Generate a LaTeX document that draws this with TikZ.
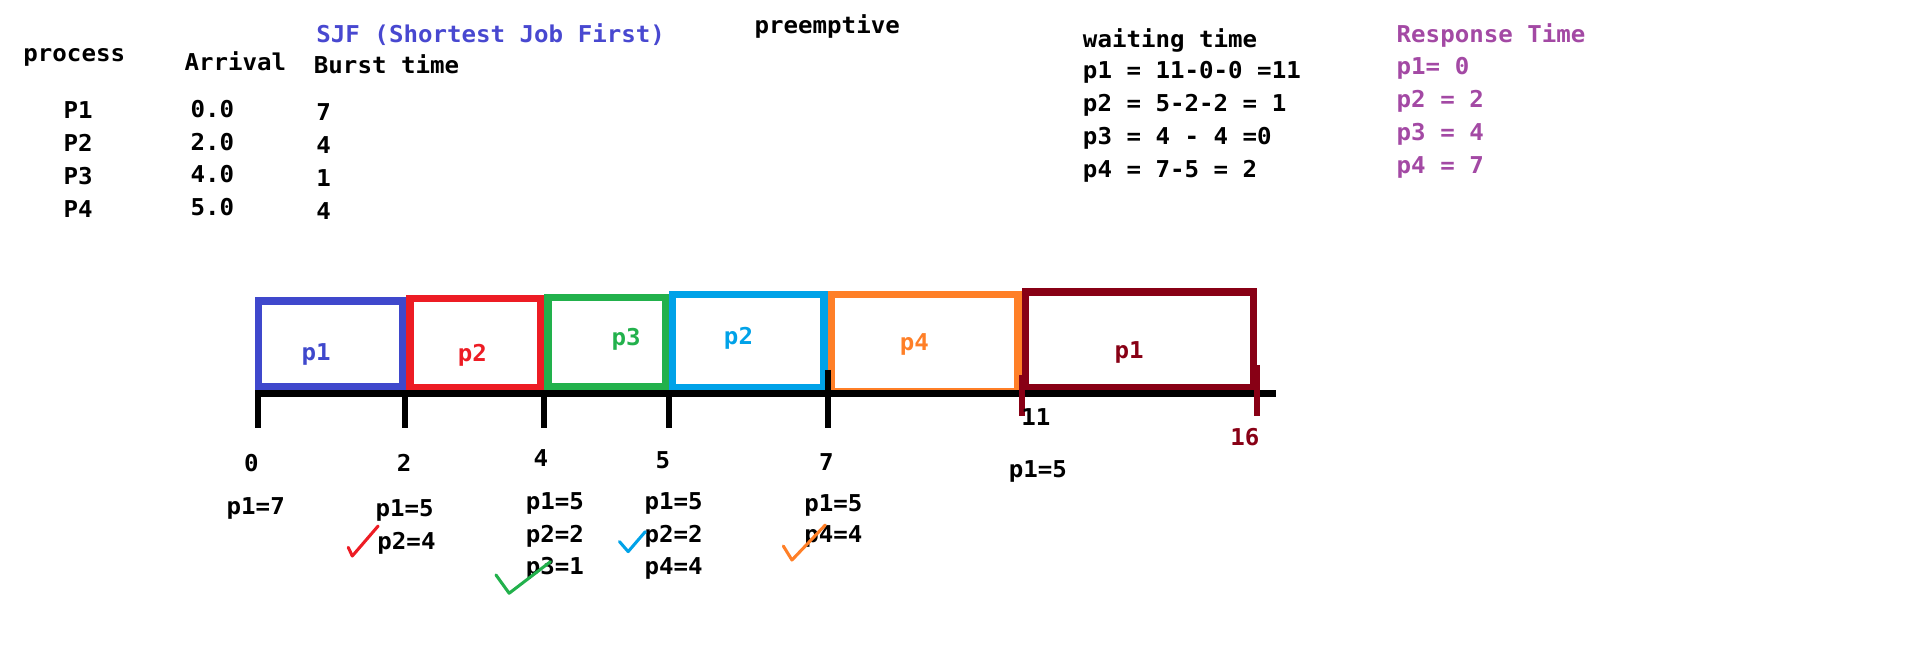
\documentclass[tikz,border=0pt]{standalone}
\usepackage{fontspec}
\setmonofont[FakeStretch=1.04]{DejaVu Sans Mono}
\usetikzlibrary{calc,positioning}
\definecolor{pblue}{RGB}{63,72,204}
\definecolor{pred}{RGB}{237,28,36}
\definecolor{pgreen}{RGB}{34,177,76}
\definecolor{pcyan}{RGB}{0,162,232}
\definecolor{porange}{RGB}{255,127,39}
\definecolor{pmaroon}{RGB}{136,0,21}
\definecolor{ptitle}{RGB}{72,72,208}
\definecolor{ppurple}{RGB}{163,73,164}
\begin{document}
\begin{tikzpicture}[x=1pt,y=-1pt,
    txt/.style={font=\ttfamily\bfseries\fontsize{19}{22}\selectfont, inner sep=0pt},
    slot/.style={draw=#1, line width=6pt, inner sep=0pt},
    tk/.style={line width=5pt},
    chk/.style={line width=2.5pt, line cap=round, line join=round}]

  \useasboundingbox (0,0) rectangle (1568,540);

  \node[txt,anchor=west] (proc) at (19,47) {process};
  \node[txt,anchor=west] (arr) at (151,50.5) {Arrival};
  \node[txt,anchor=west,ptitle] (sjf) at (259,28.7) {SJF (Shortest Job First)};
  \node[txt,anchor=west] (burst) at (257,53) {Burst time};
  \node[txt,anchor=west] (pre) at (618,21.8) {preemptive};
  \foreach \nm/\av/\bv [count=\i] in {P1/0.0/7,P2/2.0/4,P3/4.0/1,P4/5.0/4}{
    \node[txt,anchor=west] (pn\i) at (52,63+27*\i) {\nm};
    \node[txt,anchor=west] (ar\i) at (156,62+27*\i) {\av};
    \node[txt,anchor=west] (bu\i) at (259,64.5+27*\i) {\bv};
  }

  \node[txt,anchor=west] (wt) at (887,32.8) {waiting time};
  \foreach \w [count=\i] in {p1 = 11-0-0 =11, p2 = 5-2-2 = 1, p3 = 4 - 4 =0, p4 = 7-5 = 2}
    \node[txt,anchor=west] (wt\i) at (887,32.5+27*\i) {\w};
  \node[txt,anchor=west,ppurple] (rt) at (1144,28.7) {Response Time};
  \foreach \r [count=\i] in {p1= 0, p2 = 2, p3 = 4, p4 = 7}
    \node[txt,anchor=west,ppurple] (rt\i) at (1144,29+27*\i) {\r};

  \node[slot=pblue, minimum width=118, minimum height=70] (b1) at (271,281.5) {};
  \node[slot=pred, minimum width=107, minimum height=73] (b2) at (389.5,281.3) {};
  \node[slot=pgreen, minimum width=96, minimum height=73] (b3) at (497,280.4) {};
  \node[slot=pcyan, minimum width=124, minimum height=76.5] (b4) at (613,279.6) {};
  \node[slot=porange, minimum width=153, minimum height=79] (b5) at (757.5,281) {};
  \node[slot=pmaroon, minimum width=187, minimum height=78.7] (b6) at (933.5,278.5) {};
  \foreach \cl/\tx/\x/\y [count=\i] in {pblue/p1/259/290,pred/p2/387/291,pgreen/p3/513/278,
      pcyan/p2/605/277,porange/p4/749/282,pmaroon/p1/925/289}
    \node[txt,text=\cl] (l\i) at (\x,\y) {\tx};

  \coordinate (ax0) at (209,322.5);
  \coordinate (ax1) at (1045,322.5);
  \draw[line width=6pt] (ax0) -- (ax1);
  \foreach \x/\t in {211/321,332/324,446/323,548/323,678/303}
    \draw[tk] (\x,\t) -- (\x,351);
  \draw[tk,pmaroon] (837,307) -- (837,341);
  \draw[tk,pmaroon] (1030,299) -- (1030,341);

  \foreach \v/\x/\y in {0/206/379.6,2/331/379.6,4/443/375.5,5/543/377.4,7/677/378.2,11/848.7/341.4}
    \node[txt] (n\v) at (\x,\y) {\v};
  \node[txt,pmaroon] (n16) at (1019.8,357.7) {16};

  \node[txt] (c0) at (209.5,416.4) {p1=7};
  \node[txt] (c2a) at (331.5,417.8) {p1=5};
  \node[txt] (c2b) at (333,445) {p2=4};
  \node[txt] (c4a) at (454.5,412.3) {p1=5};
  \node[txt] (c4b) at (454.5,439) {p2=2};
  \node[txt] (c4c) at (454.5,465.6) {p3=1};
  \node[txt] (c5a) at (551.8,412.3) {p1=5};
  \node[txt] (c5b) at (551.8,439) {p2=2};
  \node[txt] (c5c) at (551.8,465.6) {p4=4};
  \node[txt] (c7a) at (682.8,413.7) {p1=5};
  \node[txt] (c7b) at (682.8,439.6) {p4=4};
  \node[txt] (c11) at (850.3,386.4) {p1=5};

  \draw[chk,pred] (285.3,448.4) -- (288.6,455.5) -- (309.8,430.9);
  \draw[chk,pgreen] (406.3,471) -- (417.1,486) -- (451,460.1);
  \draw[chk,pcyan] (507.5,443.7) -- (514.6,451.9) -- (528.7,435.5);
  \draw[chk,porange] (641.7,447.3) -- (648.8,458.8) -- (676.1,430.1);
\end{tikzpicture}
\end{document}
